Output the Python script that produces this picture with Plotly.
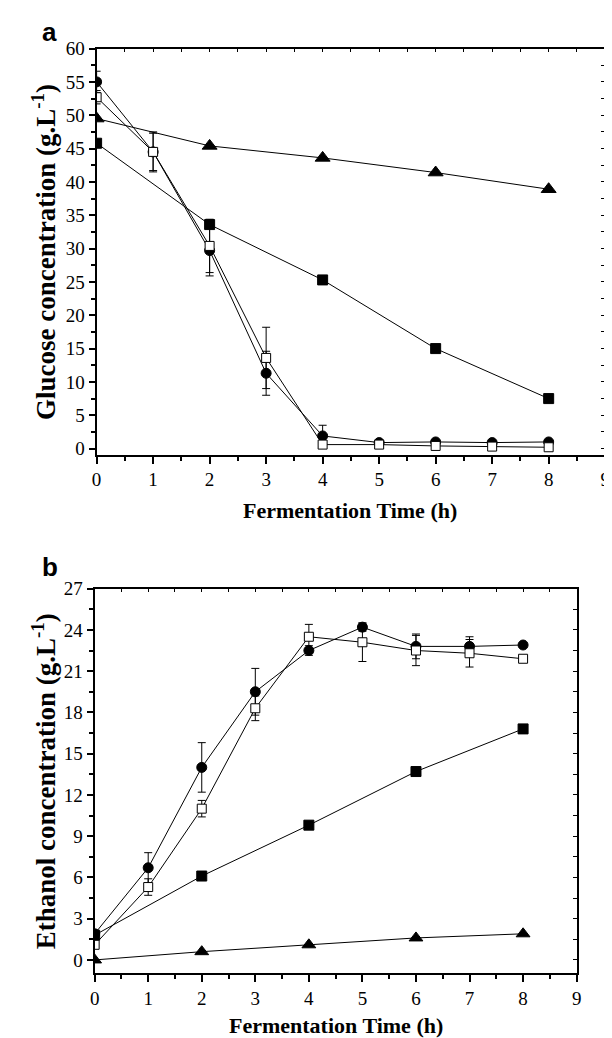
"""Glucose (a) and ethanol (b) concentration over fermentation time."""
import plotly.graph_objects as go

W, H = 612, 1038

# ---- data ----
time_full = [0, 1, 2, 3, 4, 5, 6, 7, 8]
time_even = [0, 2, 4, 6, 8]

# panel a: glucose (g/L)
glu_circle = [55.0, 44.5, 29.7, 11.3, 1.9, 0.9, 1.0, 0.9, 1.0]
glu_circle_err = [1.6, 2.8, 3.8, 3.3, 1.6, 0.2, 0.2, 0.2, 0.2]
glu_open = [52.7, 44.5, 30.4, 13.6, 0.6, 0.6, 0.4, 0.3, 0.2]
glu_open_err = [1.0, 3.0, 4.0, 4.6, 0.4, 0.3, 0.3, 0.3, 0.3]
glu_tri = [49.5, 45.4, 43.6, 41.4, 38.9]
glu_sq = [45.8, 33.6, 25.3, 15.0, 7.5]

# panel b: ethanol (g/L)
eth_circle = [1.9, 6.7, 14.0, 19.5, 22.5, 24.2, 22.8, 22.8, 22.9]
eth_circle_err = [0.0, 1.1, 1.8, 1.7, 0.35, 0.3, 0.9, 0.7, 0.0]
eth_open = [1.1, 5.3, 11.0, 18.3, 23.5, 23.1, 22.5, 22.3, 21.9]
eth_open_err = [0.0, 0.6, 0.6, 0.9, 0.9, 1.4, 1.1, 1.0, 0.0]
eth_sq = [1.8, 6.1, 9.8, 13.7, 16.8]
eth_tri = [0.0, 0.6, 1.1, 1.6, 1.9]

x_ticks = list(range(0, 10))
glu_ticks = list(range(0, 61, 5))
eth_ticks = list(range(0, 28, 3))


def px(x):
    return x / W


def py(y):
    return 1 - y / H


SERIF = "Liberation Serif, Times New Roman, serif"
tick_font = dict(family=SERIF, size=19, color="black")
title_font = dict(family=SERIF, size=22, color="black")

fig = go.Figure()


def add_series(x, y, err, symbol, fill, size, xa, ya):
    fig.add_trace(go.Scatter(
        x=x, y=y,
        mode="lines+markers",
        line=dict(color="black", width=1),
        marker=dict(symbol=symbol, size=size, color=fill,
                    line=dict(color="black", width=1)),
        error_y=dict(type="data", array=err, visible=err is not None,
                     color="black", thickness=1, width=4),
        xaxis=xa, yaxis=ya, showlegend=False,
    ))


# panel a
add_series(time_even, glu_tri, None, "triangle-up", "black", 13, "x", "y")
add_series(time_even, glu_sq, None, "square", "black", 10, "x", "y")
add_series(time_full, glu_circle, glu_circle_err, "circle", "black", 10, "x", "y")
add_series(time_full, glu_open, glu_open_err, "square", "white", 9, "x", "y")

# panel b
add_series(time_even, eth_tri, None, "triangle-up", "black", 12, "x2", "y2")
add_series(time_even, eth_sq, None, "square", "black", 10, "x2", "y2")
add_series(time_full, eth_circle, eth_circle_err, "circle", "black", 10, "x2", "y2")
add_series(time_full, eth_open, eth_open_err, "square", "white", 9, "x2", "y2")

# empty traces so the mirrored (top/right) axes with inward ticks get drawn
for xa, ya in (("x3", "y3"), ("x4", "y4")):
    fig.add_trace(go.Scatter(x=[], y=[], xaxis=xa, yaxis=ya,
                             showlegend=False, hoverinfo="skip"))

a_dom_x = [px(85), px(602)]
a_dom_y = [py(443), py(31)]
b_dom_x = [px(83), px(573)]
b_dom_y = [py(969), py(579)]

a_yrange = [-0.9, 60]
b_yrange = [-0.95, 27]
x_range = [0, 9]


def x_axis(domain, anchor):
    return dict(
        domain=domain, anchor=anchor, range=x_range,
        tickvals=x_ticks, ticks="outside", ticklen=7, tickwidth=2,
        tickcolor="black", tickfont=tick_font,
        minor=dict(dtick=0.5, ticks="outside", ticklen=4, tickwidth=2,
                   tickcolor="black"),
        showline=True, linecolor="black", linewidth=2,
        showgrid=False, zeroline=False,
    )


def y_axis(domain, anchor, rng, vals):
    return dict(
        domain=domain, anchor=anchor, range=rng,
        tickvals=vals, ticks="outside", ticklen=6, tickwidth=2,
        tickcolor="black", tickfont=tick_font,
        minor=dict(dtick=(vals[1] - vals[0]) / 2, tick0=0, ticks="outside",
                   ticklen=4, tickwidth=2, tickcolor="black"),
        showline=True, linecolor="black", linewidth=2,
        showgrid=False, zeroline=False,
    )


def top_axis(over, anchor):
    return dict(overlaying=over, anchor=anchor, side="top", range=x_range,
                dtick=0.5, tick0=0, ticks="inside", ticklen=4, tickwidth=1,
                tickcolor="black", showticklabels=False,
                showline=True, linecolor="black", linewidth=1.5,
                showgrid=False, zeroline=False)


def right_axis(over, anchor, rng, step):
    return dict(overlaying=over, anchor=anchor, side="right", range=rng,
                dtick=step, tick0=0, ticks="inside", ticklen=4, tickwidth=1,
                tickcolor="black", showticklabels=False,
                showline=True, linecolor="black", linewidth=1.5,
                showgrid=False, zeroline=False)


fig.update_layout(
    width=W, height=H,
    margin=dict(l=0, r=0, t=0, b=0),
    plot_bgcolor="white", paper_bgcolor="white",
    xaxis=x_axis(a_dom_x, "y"),
    yaxis=y_axis(a_dom_y, "x", a_yrange, glu_ticks),
    xaxis2=x_axis(b_dom_x, "y2"),
    yaxis2=y_axis(b_dom_y, "x2", b_yrange, eth_ticks),
    xaxis3=top_axis("x", "y3"),
    yaxis3=right_axis("y", "x3", a_yrange, 2.5),
    xaxis4=top_axis("x2", "y4"),
    yaxis4=right_axis("y2", "x4", b_yrange, 1.5),
)

annotations = [
    dict(text="<b>a</b>", x=px(37), y=py(14),
         font=dict(family="Liberation Sans, Arial, sans-serif", size=26, color="black")),
    dict(text="<b>b</b>", x=px(38), y=py(557),
         font=dict(family="Liberation Sans, Arial, sans-serif", size=26, color="black")),
    dict(text="<b>Fermentation Time (h)</b>", x=px(343), y=py(500), font=title_font),
    dict(text="<b>Fermentation Time (h)</b>", x=px(328), y=py(1022), font=title_font),
    dict(text="<b>Glucose concentration (g.L<sup>-1</sup>)</b>", x=px(31), y=py(237),
         textangle=-90, font=dict(family=SERIF, size=27, color="black")),
    dict(text="<b>Ethanol concentration (g.L<sup>-1</sup>)</b>", x=px(31), y=py(774),
         textangle=-90, font=dict(family=SERIF, size=27, color="black")),
]
for a in annotations:
    a.update(xref="paper", yref="paper", showarrow=False,
             xanchor="center", yanchor="middle")
fig.update_layout(annotations=annotations)

fig.write_html("out.html")
